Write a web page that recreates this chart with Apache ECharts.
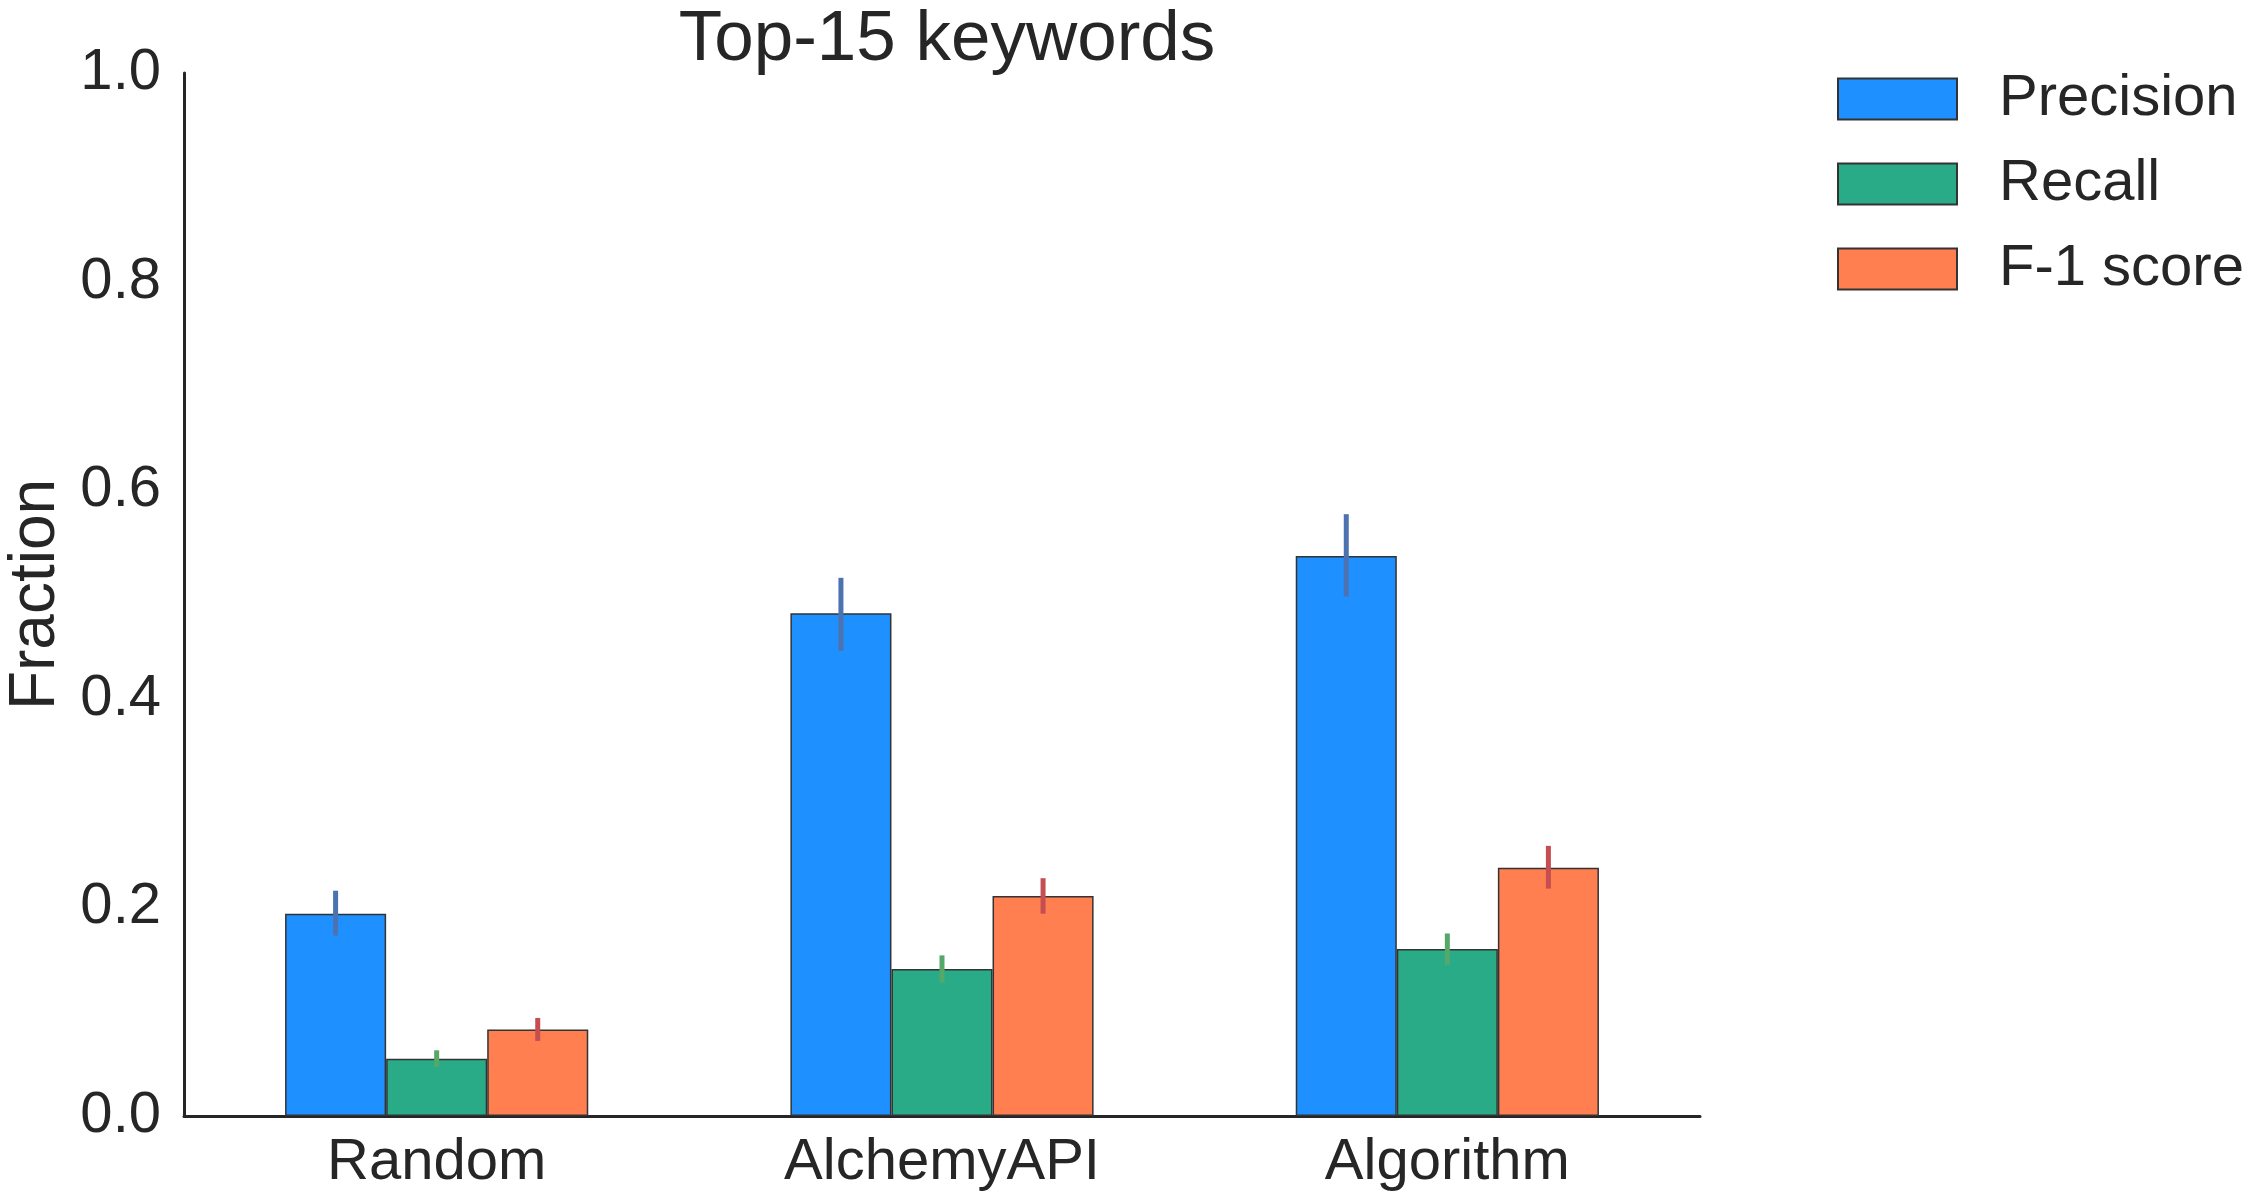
<!DOCTYPE html>
<html>
<head>
<meta charset="utf-8">
<script src="https://cdn.jsdelivr.net/npm/echarts@6/dist/echarts.min.js"></script>
<style>
html,body{margin:0;padding:0;background:#fff;}
#chart{width:2255px;height:1200px;}
</style>
</head>
<body>
<div id="chart"></div>
<script>
const categories = ['Random', 'AlchemyAPI', 'Algorithm'];
const seriesNames = ['Precision', 'Recall', 'F-1 score'];
const precision = [0.194, 0.482, 0.537];
const precisionLow = [0.173, 0.446, 0.498];
const precisionHigh = [0.216, 0.516, 0.577];
const recall = [0.055, 0.141, 0.160];
const recallLow = [0.047, 0.128, 0.145];
const recallHigh = [0.063, 0.154, 0.175];
const f1 = [0.083, 0.211, 0.238];
const f1Low = [0.072, 0.194, 0.218];
const f1High = [0.094, 0.228, 0.259];
const yTicks = [0.0, 0.2, 0.4, 0.6, 0.8, 1.0];

const barColors = ['#1e90ff', '#2aab88', '#ff7f50'];
const errColors = ['#4c72b0', '#55a868', '#c44e52'];
const FONT = "'Liberation Sans', Arial, sans-serif";
const TXT = '#262626';

const values = [precision, recall, f1];
const lows = [precisionLow, recallLow, f1Low];
const highs = [precisionHigh, recallHigh, f1High];

const barSeries = seriesNames.map((name, i) => ({
  name: name,
  type: 'bar',
  data: values[i],
  barWidth: '20%',
  barGap: '0%',
  itemStyle: { color: barColors[i], borderColor: '#333333', borderWidth: 1.5 },
  emphasis: { disabled: true },
  z: 2
}));

const errSeries = seriesNames.map((name, i) => ({
  name: name + ' err',
  type: 'custom',
  data: categories.map((c, k) => [k, lows[i][k], highs[i][k]]),
  encode: { x: 0, y: [1, 2] },
  z: 5,
  renderItem: function (params, api) {
    const k = api.value(0);
    const p1 = api.coord([k, api.value(1)]);
    const p2 = api.coord([k, api.value(2)]);
    const band = api.size([1, 0])[0];
    const off = (i - 1) * band * 0.2;
    return {
      type: 'line',
      shape: { x1: p1[0] + off, y1: p1[1], x2: p2[0] + off, y2: p2[1] },
      style: { stroke: errColors[i], lineWidth: 5 }
    };
  }
}));

const chart = echarts.init(document.getElementById('chart'), null, { renderer: 'canvas' });
chart.setOption({
  animation: false,
  backgroundColor: '#ffffff',
  title: {
    text: 'Top-15 keywords',
    left: 942,
    textAlign: 'center',
    top: 0,
    textStyle: { fontFamily: FONT, fontSize: 71, fontWeight: 'normal', color: TXT }
  },
  legend: {
    data: seriesNames,
    orient: 'vertical',
    left: 1837,
    top: 70,
    padding: 0,
    itemWidth: 119,
    itemHeight: 41,
    itemGap: 27,
    icon: 'rect',
    textStyle: { fontFamily: FONT, fontSize: 58, color: TXT, padding: [0, 0, 0, 37] }
  },
  grid: { left: 184, right: 555, top: 73, bottom: 84, outerBoundsMode: 'none', containLabel: false },
  xAxis: {
    type: 'category',
    data: categories,
    axisLine: { lineStyle: { color: TXT, width: 3 } },
    axisTick: { show: false },
    axisLabel: { fontFamily: FONT, fontSize: 58, color: TXT, margin: 18 },
    splitLine: { show: false }
  },
  yAxis: {
    type: 'value',
    min: 0,
    max: 1,
    interval: 0.2,
    name: 'Fraction',
    nameLocation: 'middle',
    nameGap: 116,
    nameTextStyle: { fontFamily: FONT, fontSize: 64, color: TXT },
    axisLine: { show: true, lineStyle: { color: TXT, width: 3 } },
    axisTick: { show: false },
    splitLine: { show: false },
    axisLabel: {
      fontFamily: FONT, fontSize: 58, color: TXT, margin: 23,
      formatter: function (v) { return v.toFixed(1); }
    }
  },
  series: barSeries.concat(errSeries)
});
</script>
</body>
</html>
